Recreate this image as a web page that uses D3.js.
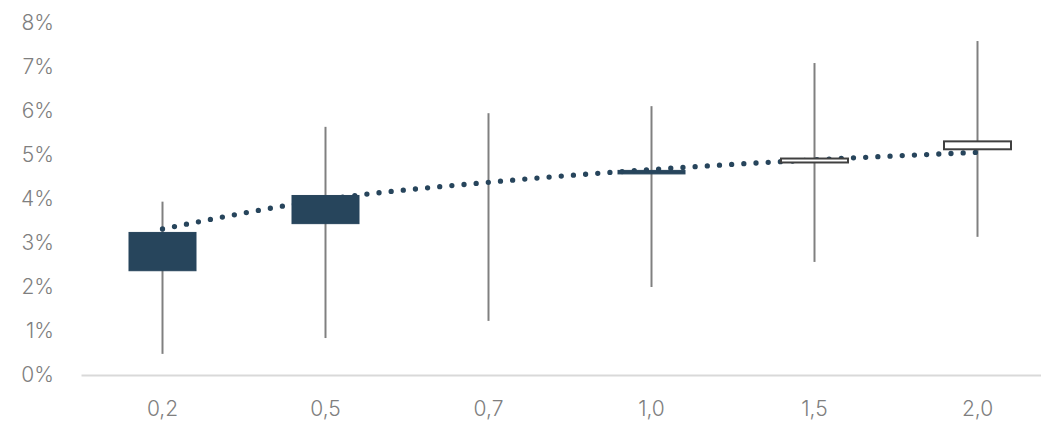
<!DOCTYPE html>
<html><head><meta charset="utf-8">
<script src="https://cdn.jsdelivr.net/npm/d3@7"></script>
<style>body{margin:0;background:#fff}svg{display:block}</style>
</head><body>
<svg id="c" width="1041" height="426"></svg>
<script>
const categories = ["0,2","0,5","0,7","1,0","1,5","2,0"];
const openVals  = [3.24, 4.08, 4.36, 4.65, 4.83, 5.13];
const highVals  = [3.94, 5.64, 5.95, 6.11, 7.09, 7.59];
const lowVals   = [0.48, 0.84, 1.23, 2.00, 2.57, 3.14];
const closeVals = [2.37, 3.44, 4.36, 4.57, 4.92, 5.31];
const trendVals = [3.32, 3.99, 4.38, 4.67, 4.89, 5.06];
const yTicks = [0,1,2,3,4,5,6,7,8];

const svg = d3.select("#c");
const x = d3.scaleBand().domain(categories).range([81, 1059]);
const y = d3.scaleLinear().domain([0, 8]).range([375, 23]);
const font = "Inter, 'Open Sans', sans-serif";

// y axis labels
const yAxis = svg.append("g").attr("transform","translate(54,0)")
  .call(d3.axisLeft(y).tickValues(yTicks).tickFormat(d=>d+"%").tickSize(0).tickPadding(0));
yAxis.select(".domain").remove();
yAxis.selectAll("text").attr("fill","#7f7f7f").style("font-family",font).style("font-size","21px").style("font-weight","300");

// x axis
const xAxis = svg.append("g").attr("transform","translate(0,375)")
  .call(d3.axisBottom(x).tickSize(0).tickPadding(26));
xAxis.select(".domain").attr("stroke","#d9d9d9").attr("stroke-width",2);
xAxis.selectAll("text").attr("fill","#7f7f7f").style("font-family",font).style("font-size","21px").style("font-weight","300");

const data = categories.map((c,i)=>({c, o:openVals[i], h:highVals[i], l:lowVals[i], cl:closeVals[i]}));
const cx = d => x(d.c) + x.bandwidth()/2;

// whiskers
svg.append("g").selectAll("line").data(data).join("line")
  .attr("x1",cx).attr("x2",cx)
  .attr("y1",d=>y(d.h)).attr("y2",d=>y(d.l))
  .attr("stroke","#808080").attr("stroke-width",2);

// trend line (dotted)
const line = d3.line().x((d,i)=>x(categories[i])+x.bandwidth()/2).y(d=>y(d)).curve(d3.curveMonotoneX);
svg.append("path").datum(trendVals).attr("d",line)
  .attr("fill","none").attr("stroke","#27455c").attr("stroke-width",5.3)
  .attr("stroke-linecap","round").attr("stroke-dasharray","0 12.2");

// boxes
const bw = 67;
svg.append("g").selectAll("rect").data(data.filter(d=>d.o!==d.cl)).join("rect")
  .attr("x",d=>cx(d)-bw/2).attr("width",bw)
  .attr("y",d=>y(Math.max(d.o,d.cl)))
  .attr("height",d=>Math.abs(y(d.o)-y(d.cl)))
  .attr("fill",d=>d.cl<d.o?"#27455c":"#ffffff")
  .attr("stroke",d=>d.cl<d.o?"#27455c":"#404040")
  .attr("stroke-width",d=>d.cl<d.o?1:2);
</script>
</body></html>
